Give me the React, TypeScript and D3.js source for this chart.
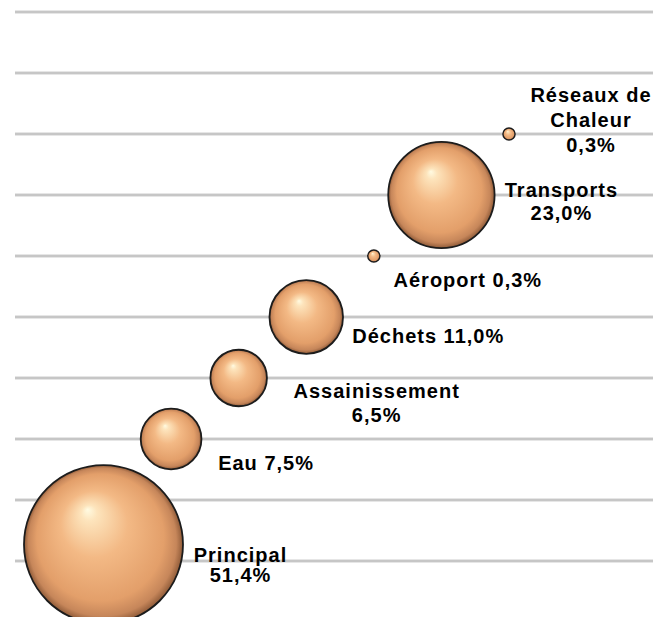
import * as d3 from "d3";

// Répartition par budget — bubble chart, area ~ share
const NAMES = ["Principal", "Eau", "Assainissement", "Déchets", "Aéroport", "Transports", "Réseaux de Chaleur"];
const SHARES = [51.4, 7.5, 6.5, 11.0, 0.3, 23.0, 0.3];
const X_POS = [1, 2, 3, 4, 5, 6, 7];
const Y_POS = [0.27, 2, 3, 4, 5, 6, 7];
const Y_TICKS = [0, 1, 2, 3, 4, 5, 6, 7, 8, 9];

const W = 664;
const H = 617;

// label placement relative to bubble centre (text centre x, first baseline)
const LABELS = [
  { dx: 137, dy: 17, lh: 20, inline: false },
  { dx: 95, dy: 31, lh: 0, inline: true },
  { dx: 138, dy: 20, lh: 24, inline: false },
  { dx: 122, dy: 26, lh: 0, inline: true },
  { dx: 94, dy: 31, lh: 0, inline: true },
  { dx: 120, dy: 2, lh: 23, inline: false },
  { dx: 82, dy: -32, lh: 25, inline: false, wrap: ["Réseaux de", "Chaleur"] },
];

const fmt = (v: number) => v.toFixed(1).replace(".", ",") + "%";

export default function App() {
  const x = d3.scaleLinear().domain([1, 7]).range([103.5, 509]);
  const y = d3.scaleLinear().domain([0, 9]).range([561, 12]);
  const r = d3.scaleSqrt().domain([0, d3.max(SHARES) as number]).range([0, 79.5]);

  const data = NAMES.map((name, i) => ({
    name,
    share: SHARES[i],
    cx: x(X_POS[i]),
    cy: y(Y_POS[i]),
    r: r(SHARES[i]),
    label: LABELS[i],
  }));

  return (
    <svg
      width={W}
      height={H}
      style={{ position: "absolute", left: 0, top: 0, background: "#fff" }}
      fontFamily="'Liberation Sans', Arial, sans-serif"
    >
      <defs>
        <radialGradient id="sphere" cx="50%" cy="50%" r="50%" fx="40%" fy="28%">
          <stop offset="0" stopColor="#fffbe2" />
          <stop offset="0.1" stopColor="#fde4bc" />
          <stop offset="0.42" stopColor="#f3b985" />
          <stop offset="0.8" stopColor="#e39f6a" />
          <stop offset="0.93" stopColor="#c6865a" />
          <stop offset="1" stopColor="#8e5a38" />
        </radialGradient>
      </defs>

      <g>
        {Y_TICKS.map((t) => (
          <g key={t}>
            <line x1={15} x2={653} y1={y(t)} y2={y(t)} stroke="#e6e6e6" strokeWidth={4} />
            <line x1={15} x2={653} y1={y(t)} y2={y(t)} stroke="#c6c6c6" strokeWidth={2} />
          </g>
        ))}
      </g>

      <g>
        {data.map((d) => (
          <circle
            key={d.name}
            cx={d.cx}
            cy={d.cy}
            r={d.r}
            fill="url(#sphere)"
            stroke="#1c1c1c"
            strokeWidth={d.r > 20 ? 1.8 : 1.4}
          />
        ))}
      </g>

      <g fontWeight="bold" fontSize={20} fill="#000" textAnchor="middle" letterSpacing={1}>
        {data.map((d) => {
          const L = d.label;
          const lines = L.inline
            ? [`${d.name} ${fmt(d.share)}`]
            : [...(L.wrap ?? [d.name]), fmt(d.share)];
          return (
            <text key={d.name} x={d.cx + L.dx} y={d.cy + L.dy}>
              {lines.map((s, k) => (
                <tspan key={k} x={d.cx + L.dx} dy={k === 0 ? 0 : L.lh}>
                  {s}
                </tspan>
              ))}
            </text>
          );
        })}
      </g>
    </svg>
  );
}
